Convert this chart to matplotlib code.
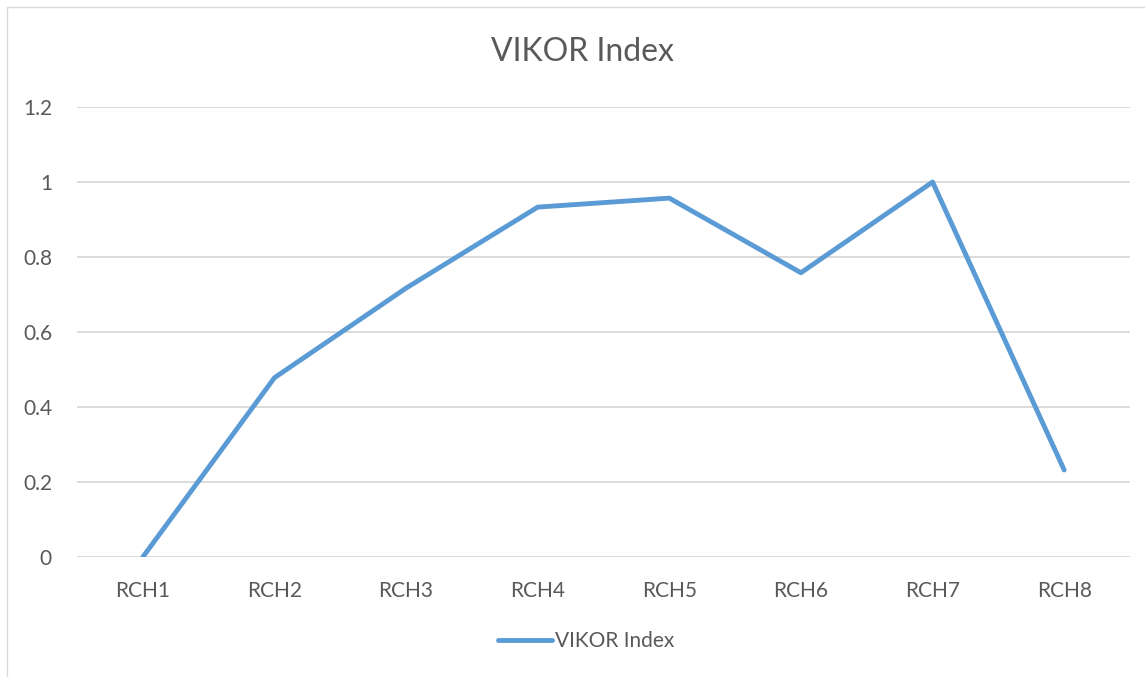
import matplotlib.pyplot as plt
from matplotlib.patches import Rectangle

categories = ['RCH1', 'RCH2', 'RCH3', 'RCH4', 'RCH5', 'RCH6', 'RCH7', 'RCH8']
vikor = [0.0, 0.478, 0.717, 0.933, 0.957, 0.758, 1.0, 0.232]
yticks = [0, 0.2, 0.4, 0.6, 0.8, 1.0, 1.2]
ytick_labels = ['0', '0.2', '0.4', '0.6', '0.8', '1', '1.2']

plt.rcParams['font.family'] = ['Lato', 'DejaVu Sans']
text_col = '#595959'
grid_col = '#d9d9d9'
line_col = '#5b9bd5'

W, H = 1145, 677
fig = plt.figure(figsize=(W / 100, H / 100), dpi=100)

# chart area border (cropped on the right and bottom in the original)
fig.add_artist(Rectangle((7 / W, -0.2), 1.5, 1.2 - 7 / H, transform=fig.transFigure,
                         fill=False, edgecolor=grid_col, linewidth=1.0))

ax = fig.add_axes([77 / W, 1 - 557 / H, (1130 - 77) / W, 450 / H])
x = list(range(len(categories)))
ax.plot(x, vikor, color=line_col, linewidth=3.5, solid_capstyle='round',
        solid_joinstyle='round', label='VIKOR Index', zorder=3)

ax.set_xlim(-0.5, len(categories) - 0.5)
ax.set_ylim(0, 1.2)
ax.set_yticks(yticks)
ax.set_yticklabels(ytick_labels)
ax.set_xticks(x)
ax.set_xticklabels(categories)
ax.tick_params(length=0, labelsize=15, labelcolor=text_col)
ax.tick_params(axis='y', pad=18)
ax.tick_params(axis='x', pad=17)
ax.yaxis.grid(True, color=grid_col, linewidth=1.3)
ax.set_axisbelow(True)
for s in ax.spines.values():
    s.set_visible(False)

fig.text(582 / W, 1 - 52 / H, 'VIKOR Index', ha='center', va='center',
         fontsize=23, color=text_col)

fig.legend(loc='center', bbox_to_anchor=(586 / W, 1 - 641 / H), frameon=False,
           fontsize=15, labelcolor=text_col, handlelength=2.6, handletextpad=0.15)

fig.savefig('out.png', dpi=100, facecolor='white')
